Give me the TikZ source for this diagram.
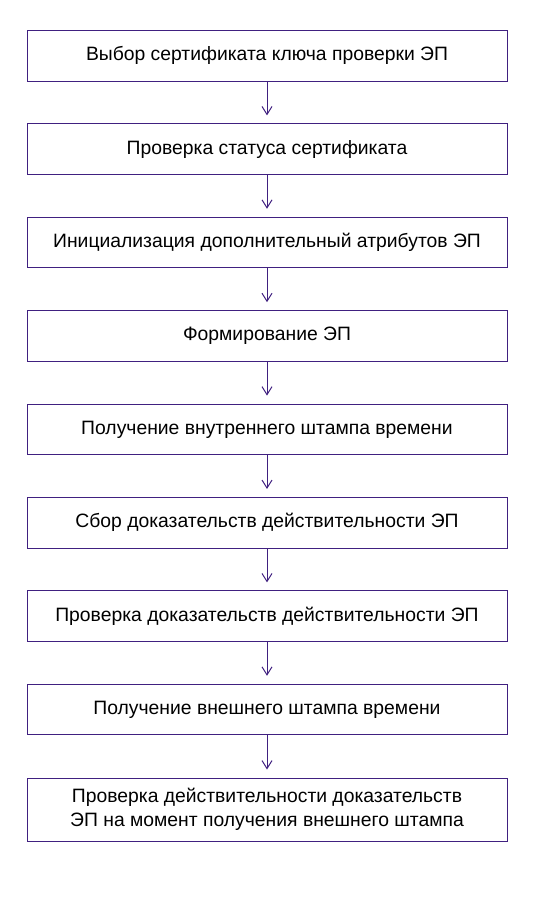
\documentclass[tikz,border=0pt]{standalone}
\usepackage{fontspec}
\setmainfont{Liberation Sans}
\usetikzlibrary{arrows.meta}
\definecolor{frameviolet}{RGB}{64,32,128}

\begin{document}
\begin{tikzpicture}[x=0.75pt, y=-0.75pt,
	stage/.style={draw=frameviolet, line width=0.75pt, minimum width=360pt, minimum height=37.9pt, inner sep=0pt, align=center, font=\fontsize{14.5}{18}\selectfont},
	flow/.style={draw=frameviolet, line width=0.75pt, -{Straight Barb[length=6pt, width=7.5pt]}, shorten >=6pt}]
			%%%%% START %%%%%
			\useasboundingbox (0, 0) rectangle (534, 900);
			
			\node[stage] (s1) at (267, 55.75) {Выбор сертификата ключа проверки ЭП};
			\node[stage] (s2) at (267, 149.15) {Проверка статуса сертификата};
			\node[stage] (s3) at (267, 242.55) {Инициализация дополнительный атрибутов ЭП};
			\node[stage] (s4) at (267, 335.95) {Формирование ЭП};
			\node[stage] (s5) at (267, 429.35) {Получение внутреннего штампа времени};
			\node[stage] (s6) at (267, 522.75) {Сбор доказательств действительности ЭП};
			\node[stage] (s7) at (267, 616.15) {Проверка доказательств действительности ЭП};
			\node[stage] (s8) at (267, 709.55) {Получение внешнего штампа времени};
			\node[stage, minimum height=47.25pt] (s9) at (267, 809.5) {Проверка действительности доказательств\\ЭП на момент получения внешнего штампа};
			
			\foreach \a/\b in {s1/s2, s2/s3, s3/s4, s4/s5, s5/s6, s6/s7, s7/s8, s8/s9}
				\draw[flow] (\a) -- (\b);
			%%%%% END %%%%%
\end{tikzpicture}
\end{document}
